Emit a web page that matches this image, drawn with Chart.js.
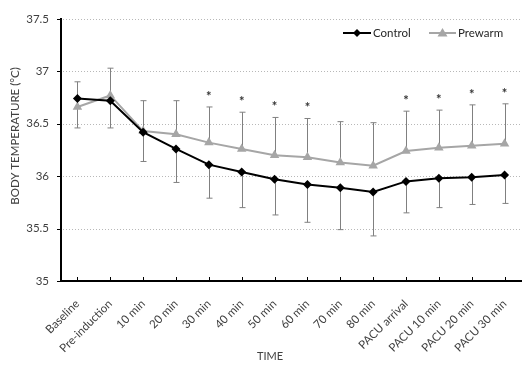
<!DOCTYPE html>
<html>
<head>
<meta charset="utf-8">
<script src="https://cdn.jsdelivr.net/npm/chart.js@4.4.1/dist/chart.umd.min.js"></script>
<style>
  body { margin: 0; background: #fff; }
  #wrap { width: 529px; height: 367px; position: relative; }
</style>
</head>
<body>
<div id="wrap"><canvas id="TempChart"></canvas></div>
<script>
(function () {
  "use strict";

  // Data
  const timeLabels   = ['Baseline', 'Pre-induction', '10 min', '20 min', '30 min', '40 min', '50 min',
                        '60 min', '70 min', '80 min', 'PACU arrival', 'PACU 10 min', 'PACU 20 min', 'PACU 30 min'];
  const controlMean  = [36.74, 36.72, 36.42, 36.26, 36.11, 36.04, 35.97, 35.92, 35.89, 35.85, 35.95, 35.98, 35.99, 36.01];
  const controlLow   = [36.46, 36.46, 36.14, 35.94, 35.79, 35.70, 35.63, 35.56, 35.49, 35.43, 35.65, 35.70, 35.73, 35.74];
  const prewarmMean  = [36.66, 36.77, 36.43, 36.40, 36.32, 36.26, 36.20, 36.18, 36.13, 36.10, 36.24, 36.27, 36.29, 36.31];
  const prewarmHigh  = [36.90, 37.03, 36.72, 36.72, 36.66, 36.61, 36.56, 36.55, 36.52, 36.51, 36.62, 36.63, 36.68, 36.69];
  const significant  = [0, 0, 0, 0, 1, 1, 1, 1, 0, 0, 1, 1, 1, 1];
  const yTickLabels  = ['35', '35.5', '36', '36.5', '37', '37.5'];

  const text_dark   = '#404040';
  const line_black  = '#000000';
  const line_gray   = '#a6a6a6';
  const bar_gray    = '#808080';
  const grid_gray   = '#b8b8b8';
  const font_family = 'Lato, "Open Sans", sans-serif';

  // grid, error bars, tick marks, asterisks, legend and axis titles
  const extras = {
    id: 'extras',
    beforeDatasetsDraw(chart) {
      const {ctx, chartArea, scales: {x, y}} = chart;
      ctx.save();
      // dotted horizontal grid
      ctx.strokeStyle = grid_gray;
      ctx.lineWidth = 1;
      ctx.setLineDash([1, 2]);
      ctx.beginPath();
      yTickLabels.forEach(function (t) {
        const v = parseFloat(t);
        if (v === 35) return;
        const py = Math.round(y.getPixelForValue(v)) + 0.5;
        ctx.moveTo(chartArea.left + 2, py);
        ctx.lineTo(chartArea.right, py);
      });
      ctx.stroke();
      ctx.setLineDash([]);

      // error bars
      ctx.strokeStyle = bar_gray;
      for (let i = 0; i < timeLabels.length; i++) {
        const px = Math.round(x.getPixelForValue(i)) + 0.5;
        const top = y.getPixelForValue(prewarmHigh[i]);
        const bot = y.getPixelForValue(controlLow[i]);
        ctx.beginPath();
        ctx.moveTo(px, y.getPixelForValue(prewarmMean[i]));
        ctx.lineTo(px, top);
        ctx.moveTo(px - 3, top);
        ctx.lineTo(px + 3, top);
        ctx.moveTo(px, y.getPixelForValue(controlMean[i]));
        ctx.lineTo(px, bot);
        ctx.moveTo(px - 3, bot);
        ctx.lineTo(px + 3, bot);
        ctx.stroke();
      }
      ctx.restore();
    },
    afterDraw(chart) {
      const {ctx, chartArea, scales: {x, y}} = chart;
      ctx.save();
      // inside tick marks on the x axis, outside ticks on the y axis
      ctx.strokeStyle = line_black;
      ctx.lineWidth = 1;
      ctx.beginPath();
      for (let i = 0; i < timeLabels.length; i++) {
        const px = Math.round(x.getPixelForValue(i)) + 0.5;
        ctx.moveTo(px, chartArea.bottom);
        ctx.lineTo(px, chartArea.bottom - 4);
      }
      yTickLabels.forEach(function (t) {
        const py = Math.round(y.getPixelForValue(parseFloat(t))) + 0.5;
        ctx.moveTo(chartArea.left - 4, py);
        ctx.lineTo(chartArea.left, py);
      });
      ctx.stroke();

      // significance marks
      ctx.fillStyle = '#333333';
      ctx.font = 'bold 13px ' + font_family;
      ctx.textAlign = 'center';
      ctx.textBaseline = 'alphabetic';
      for (let i = 0; i < timeLabels.length; i++) {
        if (significant[i]) {
          ctx.fillText('*', x.getPixelForValue(i), y.getPixelForValue(prewarmHigh[i]) - 6);
        }
      }

      // legend
      const ds = chart.data.datasets;
      const ly = 33;
      ctx.textBaseline = 'middle';
      ctx.lineWidth = 2;
      ctx.strokeStyle = line_black;
      ctx.beginPath(); ctx.moveTo(343, ly); ctx.lineTo(371, ly); ctx.stroke();
      ctx.fillStyle = line_black;
      ctx.beginPath();
      ctx.moveTo(357, ly - 4); ctx.lineTo(361, ly); ctx.lineTo(357, ly + 4); ctx.lineTo(353, ly);
      ctx.closePath(); ctx.fill();
      ctx.strokeStyle = line_gray;
      ctx.beginPath(); ctx.moveTo(429, ly); ctx.lineTo(456, ly); ctx.stroke();
      ctx.fillStyle = line_gray;
      ctx.beginPath();
      ctx.moveTo(442.5, ly - 5); ctx.lineTo(447.5, ly + 3.5); ctx.lineTo(437.5, ly + 3.5);
      ctx.closePath(); ctx.fill();
      ctx.fillStyle = '#262626';
      ctx.font = '11.5px ' + font_family;
      ctx.textAlign = 'left';
      ctx.fillText(ds[0].label, 373, ly);
      ctx.fillText(ds[1].label, 458, ly);

      // axis titles
      ctx.fillStyle = text_dark;
      ctx.font = '11px ' + font_family;
      ctx.textAlign = 'center';
      ctx.fillText('TIME', 270, 356);
      ctx.font = '11.5px ' + font_family;
      ctx.translate(15, 136);
      ctx.rotate(-Math.PI / 2);
      ctx.fillText('BODY TEMPERATURE (°C)', 0, 0);
      ctx.restore();
    }
  };

  const ctx = document.getElementById('TempChart').getContext('2d');
  new Chart(ctx, {
    type: 'line',
    data: {
      labels: timeLabels,
      datasets: [{
        label: 'Control',
        data: controlMean,
        borderColor: line_black,
        backgroundColor: line_black,
        borderWidth: 2,
        tension: 0,
        pointStyle: 'rectRot',
        pointRadius: 4.5,
        pointBorderWidth: 0,
        pointBackgroundColor: line_black
      }, {
        label: 'Prewarm',
        data: prewarmMean,
        borderColor: line_gray,
        backgroundColor: line_gray,
        borderWidth: 2,
        tension: 0,
        pointStyle: 'triangle',
        pointRadius: 5.5,
        pointBorderWidth: 0,
        pointBackgroundColor: line_gray
      }]
    },
    options: {
      responsive: true,
      maintainAspectRatio: false,
      animation: false,
      layout: {
        padding: { top: 11, right: 8, left: 0, bottom: 0 }
      },
      scales: {
        x: {
          offset: true,
          afterFit(scale) { scale.height = 86; },
          grid: { display: false },
          border: { display: true, color: line_black, width: 2 },
          ticks: {
            color: text_dark,
            font: { family: font_family, size: 11.5 },
            maxRotation: 45,
            minRotation: 45,
            padding: 8,
            autoSkip: false
          }
        },
        y: {
          min: 35,
          max: 37.5,
          afterFit(scale) { scale.width = 61; },
          afterBuildTicks(scale) {
            scale.ticks = yTickLabels.map(function (t) { return { value: parseFloat(t) }; });
          },
          grid: { display: false, drawTicks: false },
          border: { display: true, color: line_black, width: 2 },
          ticks: {
            color: text_dark,
            font: { family: font_family, size: 11.5 },
            padding: 12,
            callback: function (v, i) { return yTickLabels[i]; }
          }
        }
      },
      plugins: {
        legend: { display: false },
        tooltip: { enabled: false }
      }
    },
    plugins: [extras]
  });
})();
</script>
</body>
</html>
